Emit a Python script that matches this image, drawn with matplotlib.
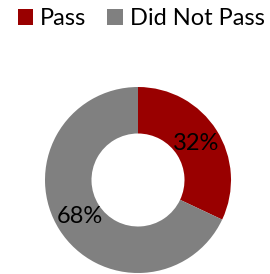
import matplotlib.pyplot as plt
from matplotlib.patches import Patch

labels = ['Pass', 'Did Not Pass']
values = [32, 68]
colors = ['#990000', '#808080']

plt.rcParams['font.family'] = ['Lato', 'DejaVu Sans']

fig = plt.figure(figsize=(2.70, 2.74), dpi=100)
ax = fig.add_axes([45 / 270, 1 / 274, 186 / 270, 186 / 274])

wedges, texts, autotexts = ax.pie(
    values, colors=colors, startangle=90, counterclock=False,
    autopct='%d%%', pctdistance=0.74, radius=1,
    wedgeprops=dict(width=0.5, edgecolor='none'),
    textprops=dict(fontsize=17, color='black'))
ax.set_xlim(-1, 1)
ax.set_ylim(-1, 1)
ax.set_aspect('equal')
ax.axis('off')

handles = [Patch(facecolor=c, edgecolor='none') for c in colors]
fig.legend(handles, labels, loc='upper left', bbox_to_anchor=(0.065, 0.97),
           ncol=2, frameon=False, fontsize=17, handlelength=0.65,
           handleheight=0.65, handletextpad=0.3, columnspacing=0.9,
           borderaxespad=0, borderpad=0)

fig.savefig('out.png', dpi=100)
